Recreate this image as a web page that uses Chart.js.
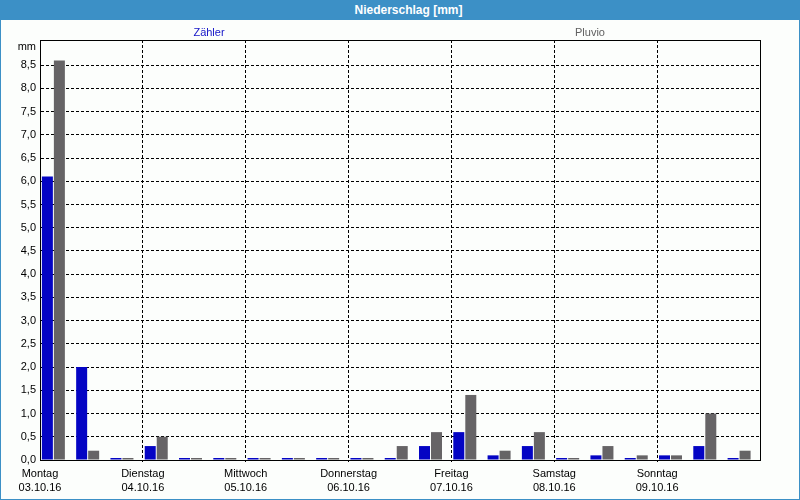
<!DOCTYPE html>
<html>
<head>
<meta charset="utf-8">
<script src="https://cdn.jsdelivr.net/npm/chart.js@4.4.0/dist/chart.umd.min.js"></script>
<style>
  html, body { margin: 0; padding: 0; background: #fcfefc; }
  #wrap { position: relative; width: 800px; height: 500px; overflow: hidden; background: #fcfefc;
          font-family: "Liberation Sans", Arial, sans-serif; }
  #chart { position: absolute; left: 0; top: 0; }
  #hdr { position: absolute; left: 0; top: 0; width: 800px; height: 20px; background: #3c90c6;
         color: #ffffff; font-weight: bold; font-size: 12px; line-height: 20px; text-align: center;
         box-sizing: border-box; padding-left: 17px; z-index: 3; }
  #frame { position: absolute; left: 0; top: 0; width: 800px; height: 500px; box-sizing: border-box;
           border: 1px solid #3c90c6; z-index: 4; pointer-events: none; }
  .lbl { position: absolute; font-size: 11px; line-height: 14px; z-index: 2; white-space: nowrap; }
</style>
</head>
<body>
<div id="wrap">
  <canvas id="chart" width="800" height="500"></canvas>
  <div id="hdr">Niederschlag [mm]</div>
  <div id="frame"></div>
</div>
<script>
// ---- data ----
const dayNames = ["Montag", "Dienstag", "Mittwoch", "Donnerstag", "Freitag", "Samstag", "Sonntag"];
const dayDates = ["03.10.16", "04.10.16", "05.10.16", "06.10.16", "07.10.16", "08.10.16", "09.10.16"];
const slotsPerDay = 3;
const seriesNames = ["Zähler", "Pluvio"];
const zaehler = [6.1, 2.0, 0.0,  0.3, 0.0, 0.0,  0.0, 0.0, 0.0,  0.0, 0.0, 0.3,  0.6, 0.1, 0.3,  0.0, 0.1, 0.0,  0.1, 0.3, 0.0];
const pluvio  = [8.6, 0.2, 0.0,  0.5, 0.0, 0.0,  0.0, 0.0, 0.0,  0.0, 0.3, 0.6,  1.4, 0.2, 0.6,  0.0, 0.3, 0.1,  0.1, 1.0, 0.2];
const yTickValues = [0, 0.5, 1, 1.5, 2, 2.5, 3, 3.5, 4, 4.5, 5, 5.5, 6, 6.5, 7, 7.5, 8, 8.5];
const yUnit = "mm";

// ---- style ----
const seriesColors = ["#0404c4", "#666466"];
const legendTextColors = ["#1414c8", "#606060"];
const legendCenters = [209, 590];
const BAR_SHIFT = 0.39;     // bars sit at the start of each 8-hour slot
const FONT = "'Liberation Sans', Arial, sans-serif";
const nSlots = dayNames.length * slotsPerDay;

const toPoints = arr => arr.map((v, i) => ({ x: i + BAR_SHIFT, y: v }));

// legend labels + unit as real text
const wrap = document.getElementById('wrap');
seriesNames.forEach((name, k) => {
  const d = document.createElement('div');
  d.className = 'lbl';
  d.textContent = name;
  d.style.left = (legendCenters[k] - 100) + 'px';
  d.style.width = '200px';
  d.style.textAlign = 'center';
  d.style.top = '25px';
  d.style.color = legendTextColors[k];
  wrap.appendChild(d);
});
const u = document.createElement('div');
u.className = 'lbl';
u.textContent = yUnit;
u.style.left = '0px'; u.style.width = '36px'; u.style.textAlign = 'right';
u.style.top = '39px'; u.style.color = '#000';
wrap.appendChild(u);

const framePlugin = {
  id: 'plotFrame',
  afterDatasetsDraw(chart) {
    const a = chart.chartArea, c = chart.ctx;
    const l = Math.round(a.left), r = Math.round(a.right), t = Math.round(a.top), b = Math.round(a.bottom);
    c.save();
    c.strokeStyle = '#000';
    c.lineWidth = 1;
    c.setLineDash([]);
    c.strokeRect(l + 0.5, t + 0.5, r - l, b - t);
    c.restore();
  }
};

new Chart(document.getElementById('chart'), {
  type: 'bar',
  data: {
    datasets: [
      { label: seriesNames[0], data: toPoints(zaehler), backgroundColor: seriesColors[0] },
      { label: seriesNames[1], data: toPoints(pluvio), backgroundColor: seriesColors[1] }
    ]
  },
  options: {
    responsive: false,
    animation: false,
    events: [],
    layout: { padding: { top: 40, right: 40, left: 0, bottom: 0 } },
    datasets: {
      bar: { categoryPercentage: 0.7, barPercentage: 0.9167, borderWidth: 0, minBarLength: 2, grouped: true }
    },
    plugins: { legend: { display: false }, title: { display: false }, tooltip: { enabled: false } },
    scales: {
      x: {
        type: 'linear', min: 0, max: nSlots, offset: false,
        afterBuildTicks: s => {
          const t = [];
          for (let d = 0; d <= dayNames.length; d++) t.push({ value: d * slotsPerDay });
          s.ticks = t;
        },
        afterFit: s => { s.height = 40; },
        grid: {
          offset: false,
          color: ctx => (ctx.tick && ctx.tick.value === nSlots) ? 'rgba(0,0,0,0)' : '#000',
          lineWidth: 1, drawTicks: true, tickLength: 2,
          tickColor: ctx => (ctx.tick && (ctx.tick.value === 0 || ctx.tick.value === nSlots)) ? 'rgba(0,0,0,0)' : '#000'
        },
        border: { display: true, color: '#000', width: 1, dash: [3, 2] },
        ticks: {
          autoSkip: false, maxRotation: 0, minRotation: 0, padding: 5, color: '#000',
          font: { family: FONT, size: 11, lineHeight: 1.25 },
          callback: v => {
            const d = Math.round(v / slotsPerDay);
            return d < dayNames.length ? [dayNames[d], dayDates[d]] : '';
          }
        }
      },
      y: {
        min: 0, max: 9.04,
        afterBuildTicks: s => { s.ticks = yTickValues.map(v => ({ value: v })); },
        afterFit: s => { s.width = 40; },
        grid: { offset: false, color: '#000', lineWidth: 1, drawTicks: false },
        border: { display: true, color: '#000', width: 1, dash: [3, 2] },
        ticks: {
          padding: 4, color: '#000', font: { family: FONT, size: 11 },
          callback: v => Number(v).toFixed(1).replace('.', ',')
        }
      }
    }
  },
  plugins: [framePlugin]
});
</script>
</body>
</html>
